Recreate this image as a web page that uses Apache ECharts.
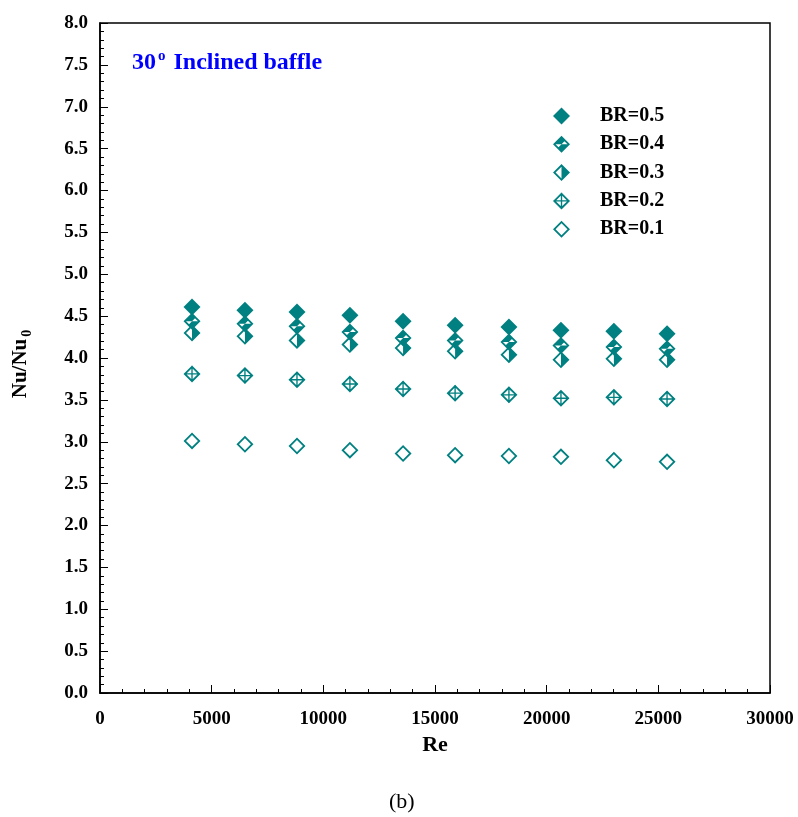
<!DOCTYPE html>
<html>
<head>
<meta charset="utf-8">
<script src="https://cdn.jsdelivr.net/npm/echarts@6/dist/echarts.min.js"></script>
<style>
html,body{margin:0;padding:0;background:#fff;}
#chart{width:798px;height:817px;}
</style>
</head>
<body>
<div id="chart"></div>
<script>
// ---- data ----
const re = [4120, 6490, 8820, 11190, 13570, 15900, 18310, 20640, 23010, 25390];
const br05 = [4.61, 4.57, 4.55, 4.51, 4.44, 4.39, 4.37, 4.33, 4.32, 4.29];
const br04 = [4.44, 4.41, 4.38, 4.31, 4.24, 4.21, 4.19, 4.15, 4.13, 4.11];
const br03 = [4.30, 4.26, 4.21, 4.16, 4.12, 4.08, 4.04, 3.98, 3.99, 3.98];
const br02 = [3.81, 3.79, 3.74, 3.69, 3.63, 3.58, 3.56, 3.52, 3.53, 3.51];
const br01 = [3.01, 2.97, 2.95, 2.90, 2.86, 2.84, 2.83, 2.82, 2.78, 2.76];
const seriesNames = ['BR=0.5', 'BR=0.4', 'BR=0.3', 'BR=0.2', 'BR=0.1'];
const xTicks = [0, 5000, 10000, 15000, 20000, 25000, 30000];

// ---- marker shapes ----
const OUTER = 'M10,0 L20,10 L10,20 L0,10 Z';
const INNER = 'M10,3 L3,10 L10,17 L17,10 Z';
const RING = OUTER + ' ' + INNER;
const symbols = {
  'BR=0.5': 'path://' + OUTER,
  'BR=0.4': 'path://' + RING + ' M10,0 L10,10 L0,10 Z M10,10 L20,10 L10,20 Z M10,0 L15,5 L10,10 Z M10,20 L5,15 L10,10 Z',
  'BR=0.3': 'path://' + RING + ' M10,0 L20,10 L10,20 Z',
  'BR=0.2': 'path://' + RING + ' M0.5,9.2 L19.5,9.2 L19.5,10.8 L0.5,10.8 Z M9.2,0.5 L10.8,0.5 L10.8,19.5 L9.2,19.5 Z',
  'BR=0.1': 'path://' + RING
};
const values = [br05, br04, br03, br02, br01];
const TEAL = '#008080';
const SERIF = '"Liberation Serif", "Times New Roman", serif';

const chart = echarts.init(document.getElementById('chart'), null, {renderer: 'canvas'});

const series = seriesNames.map((name, i) => ({
  name: name,
  type: 'scatter',
  symbol: symbols[name],
  symbolSize: [17, 17],
  itemStyle: {color: TEAL, opacity: 1},
  data: re.map((x, j) => [x, values[i][j]]),
  z: 10 - i
}));

const option = {
  animation: false,
  backgroundColor: '#fff',
  grid: {left: 100, right: 28, top: 23, bottom: 124, show: true, borderColor: '#000', borderWidth: 1.5, backgroundColor: 'transparent'},
  legend: {
    orient: 'vertical',
    left: 548,
    top: 101,
    itemWidth: 17,
    itemHeight: 17,
    itemGap: 8.3,
    data: seriesNames,
    textStyle: {fontFamily: SERIF, fontWeight: 'bold', fontSize: 20, color: '#000', padding: [0, 0, 0, 25]}
  },
  xAxis: {
    type: 'value',
    min: 0, max: 30000, interval: 5000,
    name: 'Re', nameLocation: 'middle', nameGap: 35,
    nameTextStyle: {fontFamily: SERIF, fontWeight: 'bold', fontSize: 22, color: '#000'},
    axisLine: {show: true, lineStyle: {color: '#000', width: 1.5}},
    axisTick: {show: true, inside: true, length: 8, lineStyle: {color: '#000', width: 1}},
    minorTick: {show: true, splitNumber: 5, length: 4, lineStyle: {color: '#000', width: 1}},
    splitLine: {show: false},
    axisLabel: {fontFamily: SERIF, fontWeight: 'bold', fontSize: 19, color: '#000', margin: 17,
      formatter: v => xTicks.indexOf(v) >= 0 ? String(v) : ''}
  },
  yAxis: {
    type: 'value',
    min: 0, max: 8, interval: 0.5,
    name: '{a|Nu/Nu}{s|0}', nameLocation: 'middle', nameGap: 66,
    nameTextStyle: {fontFamily: SERIF, fontWeight: 'bold', fontSize: 21, color: '#000',
      rich: {a: {fontFamily: SERIF, fontWeight: 'bold', fontSize: 21, color: '#000'},
             s: {fontFamily: SERIF, fontWeight: 'bold', fontSize: 14, color: '#000', padding: [13, 12, 0, 2]}}},
    axisLine: {show: true, lineStyle: {color: '#000', width: 1.5}},
    axisTick: {show: true, inside: true, length: 8, lineStyle: {color: '#000', width: 1}},
    minorTick: {show: true, splitNumber: 5, length: 4, lineStyle: {color: '#000', width: 1}},
    splitLine: {show: false},
    axisLabel: {fontFamily: SERIF, fontWeight: 'bold', fontSize: 19, color: '#000', margin: 12,
      formatter: v => v.toFixed(1)}
  },
  graphic: [
    {type: 'text', left: 132, top: 49, z: 20,
     style: {text: '{n|30}{o|o}{n| Inclined baffle}', fill: '#0000ff',
       rich: {n: {fontFamily: SERIF, fontWeight: 'bold', fontSize: 24, fill: '#0000ff'},
              o: {fontFamily: SERIF, fontWeight: 'bold', fontSize: 15, fill: '#0000ff', padding: [0, 2, 12, 2]}}}},
    {type: 'text', left: 389, top: 791, z: 20,
     style: {text: '(b)', fontFamily: SERIF, fontSize: 22, fill: '#000'}}
  ],
  series: series
};
chart.setOption(option);
</script>
</body>
</html>
